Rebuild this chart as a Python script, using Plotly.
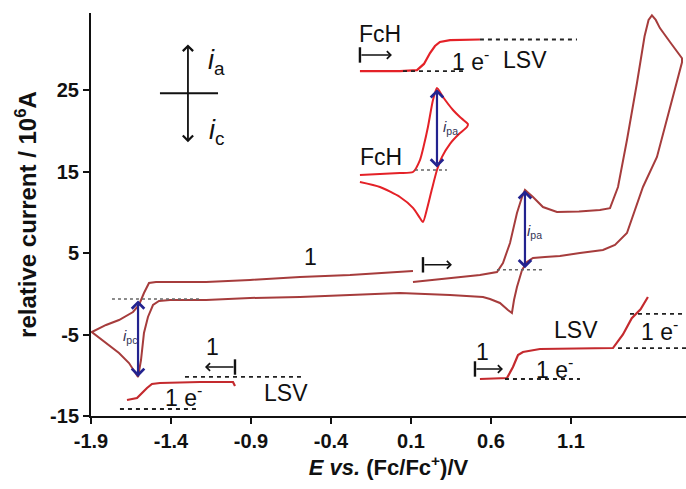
import plotly.graph_objects as go

FONT = "Liberation Sans, Arial, sans-serif"

# ---------------- data (E in V vs Fc/Fc+, I in 10^6 A, relative) ----------------
# Main cyclic voltammogram of compound 1 (start ~0.11 V -> 1.79 V -> -1.9 V -> 0.11 V)
cv1_E = [0.1125, 0.25, 0.344, 0.45, 0.531, 0.6375, 0.675, 0.719, 0.7625, 0.794, 0.8125,
         0.8625, 0.925, 1.0125, 1.15, 1.281, 1.344, 1.394, 1.45, 1.5125, 1.56, 1.585, 1.606,
         1.63, 1.656, 1.719, 1.769, 1.794,
         1.794, 1.756, 1.719, 1.675, 1.6375, 1.55, 1.5, 1.45, 1.375, 1.30, 1.156, 1.031,
         0.9375, 0.8625, 0.825, 0.794, 0.7625, 0.744, 0.731, 0.706, 0.656, 0.594, 0.55,
         0.344, 0.031, -0.594, -0.906, -1.181, -1.406, -1.475, -1.5125, -1.544, -1.569,
         -1.5875, -1.606, -1.6625, -1.725, -1.806, -1.895,
         -1.806, -1.725, -1.6375, -1.6, -1.569, -1.5375, -1.494, -1.181, -0.906, -0.594,
         -0.281, 0.1125]
cv1_I = [1.44, 1.75, 1.93, 2.15, 2.3, 2.67, 3.77, 6.23, 9.91, 11.87, 12.73,
         11.87, 10.64, 10.03, 10.1, 10.28, 10.5, 13.1, 18.87, 25.86, 31.6, 33.6, 34.15,
         33.6, 32.6, 30.89, 29.54, 28.9,
         28.4, 25.61, 22.55, 19.48, 16.78, 13.1, 10.28, 7.45, 5.98, 5.37, 5.0, 4.63,
         4.51, 4.39, 3.9, 2.91, 0.83, -0.77, -2.36, -1.99, -1.13, -0.64, -0.4,
         -0.15, 0.09, -0.4, -0.52, -0.77, -0.77, -0.89, -1.38, -2.85, -4.82,
         -8.13, -10.21, -8.5, -7.27, -6.04, -4.69,
         -3.83, -3.22, -2.24, -1.38, 0.09, 1.32, 1.44, 1.44, 1.69, 2.06,
         2.3, 2.79]

# Inset: ferrocene (FcH) CV, drawn shifted on the same axes
fch_E = [-0.219, -0.094, 0.031, 0.1125, 0.156, 0.181, 0.206, 0.2375, 0.2625, 0.30, 0.3625,
         0.406, 0.45, 0.456, 0.45, 0.40, 0.344, 0.294, 0.2625, 0.231, 0.2, 0.175, 0.156,
         0.1125, 0.031, -0.094, -0.219]
fch_I = [14.57, 14.69, 14.82, 14.94, 16.41, 18.25, 20.46, 23.77, 25.25, 24.14, 22.55,
         21.69, 20.95, 20.83, 20.46, 19.6, 18.4, 16.8, 15.18, 12.85, 10.4, 8.8, 9.3,
         10.53, 11.87, 13.1, 13.71]

# Inset: ferrocene LSV
fch_lsv_E = [-0.219, 0.031, 0.1375, 0.181, 0.219, 0.25, 0.281, 0.344, 0.531]
fch_lsv_I = [27.33, 27.33, 27.45, 28.2, 29.54, 30.4, 30.89, 31.13, 31.2]

# LSV of 1, reduction (cathodic direction)
lsv_red_E = [-1.675, -1.6125, -1.55, -1.519, -1.469, -1.219, -1.0125, -1.0]
lsv_red_I = [-13.04, -12.79, -11.56, -11.07, -10.95, -10.83, -10.83, -11.32]

# LSV of 1, oxidation (anodic direction)
lsv_ox_E = [0.531, 0.7, 0.7375, 0.769, 0.8, 0.906, 1.3625, 1.425, 1.48, 1.535, 1.581]
lsv_ox_I = [-10.46, -10.34, -8.99, -7.52, -7.15, -6.78, -6.66, -5.0, -3.0, -1.9, -0.40]

# Black dashed 1 e- step guide lines: (E start, E end, I)
dash_E0 = [0.05, 0.531, -1.719, -1.3125, 0.6875, 1.394, 1.469]
dash_E1 = [0.4375, 1.1375, -1.2375, -0.581, 1.156, 1.819, 1.819]
dash_I = [27.33, 31.2, -14.14, -10.21, -10.46, -6.66, -2.48]

# Grey dotted baselines for the peak currents
dot_E0 = [0.125, 0.6375, -1.769]
dot_E1 = [0.325, 0.925, -1.219]
dot_I = [15.18, 2.95, -0.64]

# Peak current arrows (E, I from, I to) and labels
peak_E = [0.2625, 0.8125, -1.606]
peak_I0 = [15.3, 2.95, -0.64]
peak_I1 = [25.1, 12.7, -10.2]
peak_lab = ["<i>i</i><sub>pa</sub>", "<i>i</i><sub>pa</sub>", "<i>i</i><sub>pc</sub>"]
peak_lab_E = [0.35, 0.875, -1.656]
peak_lab_I = [20.4, 7.7, -5.3]

# Sweep direction arrows "|->" (E start, E end, I)
sweep_E0 = [-0.219, 0.175, 0.5, -1.0]
sweep_E1 = [-0.019, 0.356, 0.675, -1.1875]
sweep_I = [29.3, 3.55, -9.23, -8.99]

# Text labels
lab_text = ["FcH", "FcH", "1 e<sup>-</sup>", "LSV", "1", "1", "1 e<sup>-</sup>", "LSV",
            "1", "1 e<sup>-</sup>", "LSV", "1 e<sup>-</sup>"]
lab_E = [-0.094, -0.0875, 0.475, 0.815, -0.525, -1.1375, -1.319, -0.681,
         0.544, 1.0, 1.13, 1.656]
lab_I = [31.9, 16.8, 28.7, 28.7, 4.5, -6.5, -12.6, -12.2,
         -7.15, -9.1, -4.5, -4.5]

x_ticks = [-1.9, -1.4, -0.9, -0.4, 0.1, 0.6, 1.1]
x_ticktext = ["-1.9", "-1.4", "-0.9", "-0.4", "0.1", "0.6", "1.1"]
y_ticks = [-15, -5, 5, 15, 25]
y_ticktext = ["-15", "-5", "5", "15", "25"]

C_CV = "#a63c3c"
C_FCH = "#e42127"
C_LSV = "#c42a2e"
C_BLUE = "#23238f"
C_INK = "#111111"

fig = go.Figure()

fig.add_trace(go.Scatter(x=cv1_E, y=cv1_I, mode="lines",
                         line=dict(color=C_CV, width=2), hoverinfo="skip"))
fig.add_trace(go.Scatter(x=fch_E, y=fch_I, mode="lines",
                         line=dict(color=C_FCH, width=2, shape="spline", smoothing=0.6),
                         hoverinfo="skip"))
fig.add_trace(go.Scatter(x=fch_lsv_E, y=fch_lsv_I, mode="lines",
                         line=dict(color=C_FCH, width=2.2), hoverinfo="skip"))
for ex, iy in [(lsv_red_E, lsv_red_I), (lsv_ox_E, lsv_ox_I)]:
    fig.add_trace(go.Scatter(x=ex, y=iy, mode="lines",
                             line=dict(color=C_LSV, width=2.2), hoverinfo="skip"))

for e0, e1, i in zip(dash_E0, dash_E1, dash_I):
    fig.add_trace(go.Scatter(x=[e0, e1], y=[i, i], mode="lines",
                             line=dict(color="#222222", width=1.8, dash="4px,4px"),
                             hoverinfo="skip"))
for e0, e1, i in zip(dot_E0, dot_E1, dot_I):
    fig.add_trace(go.Scatter(x=[e0, e1], y=[i, i], mode="lines",
                             line=dict(color="#666666", width=1.5, dash="dot"),
                             hoverinfo="skip"))

annotations = []
for e, i0, i1 in zip(peak_E, peak_I0, peak_I1):
    annotations.append(dict(x=e, y=i1, ax=e, ay=i0, xref="x", yref="y", axref="x", ayref="y",
                            text="", showarrow=True, arrowhead=4, startarrowhead=4,
                            arrowside="end+start", arrowsize=1.1, arrowwidth=2.2,
                            arrowcolor=C_BLUE))
for t, e, i in zip(peak_lab, peak_lab_E, peak_lab_I):
    annotations.append(dict(x=e, y=i, text=t, showarrow=False,
                            font=dict(family=FONT, size=15, color="#333355")))

# sweep arrows
bar_E = []
bar_I = []
for e0, e1, i in zip(sweep_E0, sweep_E1, sweep_I):
    annotations.append(dict(x=e1, y=i, ax=e0, ay=i, xref="x", yref="y", axref="x", ayref="y",
                            text="", showarrow=True, arrowhead=4, arrowsize=1.0,
                            arrowwidth=1.5, arrowcolor=C_INK))
    bar_E.append(e0)
    bar_I.append(i)
fig.add_trace(go.Scatter(x=bar_E, y=bar_I, mode="markers",
                         marker=dict(symbol="line-ns-open", size=11, color=C_INK,
                                     line=dict(color=C_INK, width=2.4)),
                         hoverinfo="skip"))

for t, e, i in zip(lab_text, lab_E, lab_I):
    annotations.append(dict(x=e, y=i, text=t, showarrow=False,
                            font=dict(family=FONT, size=23, color=C_INK)))

# i_a / i_c direction key
key_E = -1.294
annotations.append(dict(x=key_E, y=30.6, ax=key_E, ay=18.4, xref="x", yref="y",
                        axref="x", ayref="y", text="", showarrow=True, arrowhead=4,
                        startarrowhead=4, arrowside="end+start", arrowsize=1.1,
                        arrowwidth=1.8, arrowcolor=C_INK))
fig.add_trace(go.Scatter(x=[-1.469, -1.106], y=[24.6, 24.6], mode="lines",
                         line=dict(color=C_INK, width=1.8), hoverinfo="skip"))
annotations.append(dict(x=-1.115, y=28.4, text="<i>i</i><sub>a</sub>", showarrow=False,
                        font=dict(family=FONT, size=27, color=C_INK)))
annotations.append(dict(x=-1.115, y=19.8, text="<i>i</i><sub>c</sub>", showarrow=False,
                        font=dict(family=FONT, size=27, color=C_INK)))

fig.update_layout(
    width=686, height=489,
    margin=dict(l=91, r=0, t=13, b=73),
    paper_bgcolor="white", plot_bgcolor="white",
    showlegend=False,
    annotations=annotations,
    font=dict(family=FONT, color=C_INK),
)
fig.update_xaxes(range=[-1.9, 1.819], tickvals=x_ticks, ticktext=x_ticktext,
                 showgrid=False, zeroline=False, showline=True, linecolor=C_INK,
                 linewidth=2, ticks="outside", ticklen=6, tickwidth=2, tickcolor=C_INK,
                 tickfont=dict(family=FONT, size=20, weight="bold", color=C_INK),
                 title=dict(text="<i>E vs.</i> (Fc/Fc<sup>+</sup>)/V", standoff=5,
                            font=dict(family=FONT, size=22, weight="bold", color=C_INK)))
fig.update_yaxes(range=[-15, 34.45], tickvals=y_ticks, ticktext=y_ticktext,
                 showgrid=False, zeroline=False, showline=True, linecolor=C_INK,
                 linewidth=2, ticks="outside", ticklen=6, tickwidth=2, tickcolor=C_INK,
                 tickfont=dict(family=FONT, size=20, weight="bold", color=C_INK),
                 title=dict(text="relative current / 10<sup>6</sup>A", standoff=7,
                            font=dict(family=FONT, size=24, weight="bold", color=C_INK)))

fig.write_html("out.html")
